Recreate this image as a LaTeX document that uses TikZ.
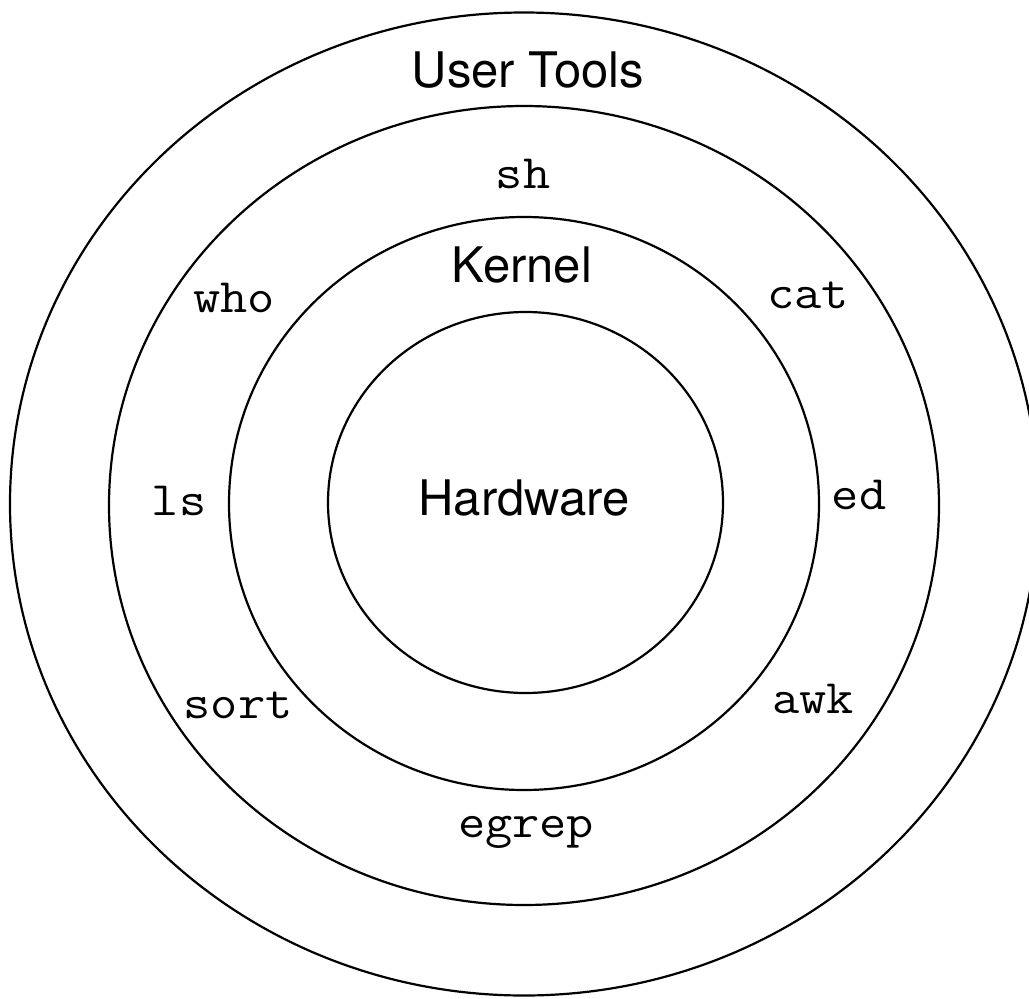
\documentclass[tikz,border=0pt]{standalone}
\usepackage{fontspec}
\usepackage{graphicx}
\newfontfamily\heros{TeX Gyre Heros}
\tikzset{
  ring/.style={draw=black, line width=2.2pt},
  sanslabel/.style={anchor=base, inner sep=0pt, font=\heros\fontsize{49}{55}\selectfont},
  monolabel/.style={anchor=base, inner sep=0pt, font=\ttfamily\fontsize{48}{54}\selectfont},
}
\newcommand{\wideMono}[1]{\scalebox{1.1}[1]{#1}}
\begin{document}
\begin{tikzpicture}[x=1pt,y=-1pt]
\useasboundingbox (0,0) rectangle (1029,999);
\fill[white] (0,0) rectangle (1029,999);
\coordinate (c) at (524,504);
\draw[ring] (c) ellipse [x radius=514, y radius=491.5];
\draw[ring] (524,505.5) ellipse [x radius=415, y radius=399.5];
\draw[ring] (524,503.5) ellipse [x radius=295, y radius=286.5];
\draw[ring] (525.5,502.5) ellipse [x radius=197.5, y radius=190.5];
\node[sanslabel] (usertools) at (528,87) {User Tools};
\node[sanslabel] (kernel) at (522,282) {Kernel};
\node[sanslabel] (hardware) at (524,515) {Hardware};
\node[monolabel] (sh) at (523,188) {\wideMono{sh}};
\node[monolabel] (who) at (234,312) {\wideMono{who}};
\node[monolabel] (cat) at (808,308) {\wideMono{cat}};
\node[monolabel] (ls) at (179,515) {\wideMono{ls}};
\node[monolabel] (ed) at (859,509) {\wideMono{ed}};
\node[monolabel] (sort) at (238,718) {\wideMono{sort}};
\node[monolabel] (awk) at (813,713) {\wideMono{awk}};
\node[monolabel] (egrep) at (526,837) {\wideMono{egrep}};
\end{tikzpicture}
\end{document}
